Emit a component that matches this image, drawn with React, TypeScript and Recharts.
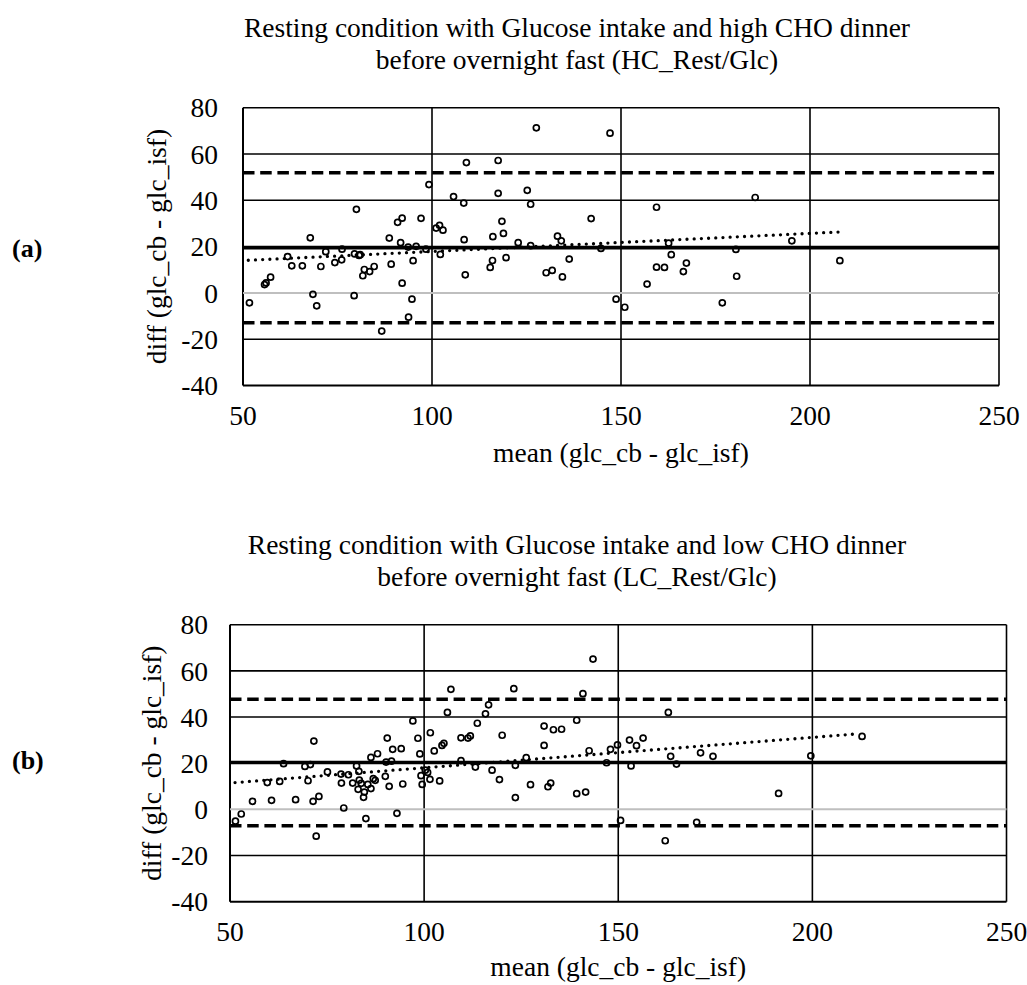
import React from 'react';
import { ScatterChart, Scatter, XAxis, YAxis, ReferenceLine } from 'recharts';

const xTicks = [50, 100, 150, 200, 250];
const yTicks = [-40, -20, 0, 20, 40, 60, 80];

// (a) HC_Rest/Glc
const hcMean = [
  51.7, 55.7, 56.1, 57.3, 61.8, 62.9, 65.7, 67.8, 68.5, 69.5, 70.6, 71.9, 74.3, 76.1, 76.2, 79.4, 79.5, 80.0,
  80.7, 81.0, 81.7, 82.1, 83.5, 84.7, 86.7, 88.7, 89.2, 90.9, 92.1, 91.7, 92.1, 93.7, 93.8, 94.7, 95.0, 95.8,
  97.1, 98.4, 99.2, 101.1, 102.0, 102.9, 102.2, 105.7, 108.4, 108.5, 108.8, 109.1, 115.4, 116.0, 116.1, 117.5,
  117.5, 118.5, 118.9, 119.6, 122.8, 125.2, 126.1, 126.1, 127.6, 130.2, 131.8, 133.2, 134.2, 134.5, 136.3,
  142.1, 144.7, 147.1, 148.7, 151.0, 156.9, 159.4, 159.4, 161.5, 162.6, 163.3, 166.5, 167.3, 176.8, 180.4,
  180.6, 185.5, 195.2, 207.9,
];
const hcDiff = [
  -4.3, 3.6, 4.3, 6.8, 15.7, 11.7, 11.7, 23.8, -0.6, -5.6, 11.4, 17.8, 13.1, 14.3, 18.9, -1.2, 16.9, 36.1,
  16.2, 16.5, 7.4, 10.1, 9.2, 11.4, -16.5, 23.7, 12.4, 30.5, 32.3, 21.7, 4.2, 19.8, -10.5, -2.7, 13.9, 20.1,
  32.2, 18.9, 46.8, 28.0, 29.2, 27.1, 16.6, 41.6, 38.8, 23.0, 7.8, 56.3, 11.0, 14.0, 24.3, 57.2,
  43.0, 30.9, 25.7, 15.2, 21.7, 44.3, 38.3, 20.4, 71.3, 8.7, 9.7, 24.5, 22.5, 6.9, 14.6,
  32.1, 19.2, 69.0, -2.7, -6.2, 3.8, 37.0, 11.1, 11.0, 21.5, 16.5, 9.2, 12.9, -4.3, 18.8,
  7.2, 41.2, 22.5, 13.9,
];
const hcBias = 19.5;
const hcLimits = [51.9, -12.9];
const hcTrend = [{ x: 51.4, y: 14.1 }, { x: 207.5, y: 26.3 }];

// (b) LC_Rest/Glc
const lcMean = [
  51.4, 52.9, 55.8, 60.7, 59.6, 62.8, 63.8, 66.9, 69.3, 70.1, 70.7, 71.4, 71.6, 72.2, 72.9, 75.1, 78.6, 78.7,
  79.3, 80.5, 81.6, 82.6, 83.2, 83.3, 83.0, 83.8, 84.4, 84.6, 85.0, 85.5, 86.3, 86.3, 86.9, 87.4, 88.0, 90.0,
  90.2, 90.5, 91.0, 91.6, 91.9, 93.0, 94.1, 94.5, 97.1, 98.4, 98.9, 99.2, 99.5, 100.3, 100.9, 101.5, 101.6,
  102.6, 104.0, 104.6, 105.1, 106.0, 106.9, 109.5, 109.5, 111.3, 111.9, 113.2, 113.7, 115.8, 116.6, 117.5,
  119.4, 120.1, 123.1, 123.5, 123.5, 126.3, 127.4, 130.9, 130.9, 131.9, 132.6, 133.3, 135.4, 139.3, 139.3,
  140.9, 141.6, 142.5, 143.5, 147.0, 148.0, 149.8, 150.6, 152.9, 153.3, 154.7, 156.4, 162.1, 162.9, 163.5,
  165.0, 170.2, 171.2, 174.4, 191.3, 199.6, 212.8,
];
const lcDiff = [
  -5.1, -2.0, 3.5, 3.9, 11.6, 12.1, 19.8, 4.2, 18.6, 12.4, 19.4, 3.5, 29.6, -11.6, 5.6, 16.2, 15.3, 11.4,
  0.6, 15.0, 11.4, 18.8, 16.5, 12.7, 8.7, 11.3, 5.2, 7.5, -4.0, 10.8, 9.0, 22.5, 13.3, 12.6, 24.1, 14.3,
  20.5, 30.9, 10.0, 20.9, 26.0, -1.7, 26.3, 11.0, 38.3, 30.8, 24.0, 14.6, 10.8, 17.0, 16.0, 13.0, 33.2,
  25.3, 12.3, 27.7, 28.6, 42.0, 52.0, 21.1, 31.0, 30.9, 31.8, 18.3, 37.3, 41.4, 45.3, 17.0,
  12.9, 32.1, 52.3, 5.1, 19.1, 22.4, 10.7, 27.7, 36.1, 9.8, 11.4, 34.5, 34.7, 6.8, 38.6,
  50.1, 7.5, 25.4, 65.1, 20.2, 26.0, 27.9, -4.8, 30.0, 18.8, 27.6, 30.9, -13.6, 42.0, 23.0,
  19.6, -5.6, 24.5, 23.0, 6.9, 23.2, 31.6,
];
const lcBias = 20.3;
const lcLimits = [47.7, -7.1];
const lcTrend = [{ x: 51.3, y: 11.6 }, { x: 211.5, y: 32.7 }];

const FONT = "'Liberation Serif', 'Times New Roman', serif";
const FS = 27.5;

const Marker = (props: any) => {
  const { cx, cy } = props;
  if (cx == null || cy == null) return null;
  return <circle cx={cx} cy={cy} r={3} fill="none" stroke="#000" strokeWidth={1.7} />;
};

type PanelProps = {
  top: number;
  height: number;
  plot: { left: number; right: number; top: number; bottom: number };
  tickGap: number;
  means: number[];
  diffs: number[];
  bias: number;
  limits: number[];
  trend: { x: number; y: number }[];
  title: string[];
  tag: string;
  yLabelX: number;
  tagBaseline: number;
  xTitleBaseline: number;
};

function Panel(p: PanelProps) {
  const W = 1027;
  const data = p.means.map((m, i) => ({ x: m, y: p.diffs[i] }));
  const yAxisW = 60;
  const xAxisH = 30;
  const margin = {
    top: p.plot.top,
    right: W - p.plot.right,
    left: p.plot.left - yAxisW,
    bottom: p.height - p.plot.bottom - xAxisH,
  };
  const cxPlot = (p.plot.left + p.plot.right) / 2;
  const cyPlot = (p.plot.top + p.plot.bottom) / 2;
  const tickStyle = { fill: '#000', fontSize: FS, fontFamily: FONT };

  return (
    <div style={{ position: 'absolute', left: 0, top: p.top, width: W, height: p.height }}>
      <ScatterChart width={W} height={p.height} margin={margin}>
        <XAxis
          type="number"
          dataKey="x"
          domain={[50, 250]}
          ticks={xTicks}
          axisLine={false}
          tickLine={false}
          tickSize={0}
          tickMargin={19.5}
          height={xAxisH}
          tick={tickStyle}
          interval={0}
        />
        <YAxis
          type="number"
          dataKey="y"
          domain={[-40, 80]}
          ticks={yTicks}
          axisLine={false}
          tickLine={false}
          tickSize={0}
          tickMargin={p.tickGap}
          width={yAxisW}
          tick={tickStyle}
          interval={0}
        />
        {xTicks.map((v) => (
          <ReferenceLine key={'vx' + v} x={v} stroke="#000" strokeWidth={v === 50 ? 2 : 1.6} />
        ))}
        {yTicks.filter((v) => v !== 0).map((v) => (
          <ReferenceLine key={'hy' + v} y={v} stroke="#000" strokeWidth={v === -40 ? 2 : 1.6} />
        ))}
        <ReferenceLine y={0} stroke="#bfbfbf" strokeWidth={2} />
        <ReferenceLine y={p.bias} stroke="#000" strokeWidth={3.4} />
        {p.limits.map((v) => (
          <ReferenceLine key={'lim' + v} y={v} stroke="#000" strokeWidth={3.6} strokeDasharray="11.5 5.7" />
        ))}
        <ReferenceLine
          segment={p.trend}
          stroke="#000"
          strokeWidth={3.3}
          strokeDasharray="0 7.2"
          strokeLinecap="round"
        />
        <Scatter data={data} shape={Marker} isAnimationActive={false} />
      </ScatterChart>
      <svg
        width={W}
        height={p.height}
        style={{ position: 'absolute', left: 0, top: 0, pointerEvents: 'none' }}
        fontFamily={FONT}
        fontSize={FS}
      >
        <text x={577} y={37} textAnchor="middle">{p.title[0]}</text>
        <text x={577} y={69} textAnchor="middle">{p.title[1]}</text>
        <text
          x={p.yLabelX}
          y={cyPlot}
          textAnchor="middle"
          transform={`rotate(-90, ${p.yLabelX}, ${cyPlot})`}
        >
          diff (glc_cb - glc_isf)
        </text>
        <text x={cxPlot} y={p.xTitleBaseline} textAnchor="middle">mean (glc_cb - glc_isf)</text>
        <text x={12} y={p.tagBaseline} fontWeight="bold" fontSize={26}>{p.tag}</text>
      </svg>
    </div>
  );
}

export default function App() {
  return (
    <div style={{ position: 'absolute', left: 0, top: 0, width: 1027, height: 985, background: '#fff' }}>
      <Panel
        top={0}
        height={500}
        plot={{ left: 243, right: 999, top: 107.7, bottom: 385.5 }}
        tickGap={25}
        means={hcMean}
        diffs={hcDiff}
        bias={hcBias}
        limits={hcLimits}
        trend={hcTrend}
        title={['Resting condition with Glucose intake and high CHO dinner', 'before overnight fast (HC_Rest/Glc)']}
        tag="(a)"
        yLabelX={166}
        tagBaseline={257}
        xTitleBaseline={462}
      />
      <Panel
        top={517}
        height={468}
        plot={{ left: 230, right: 1006.5, top: 107.7, bottom: 384.7 }}
        tickGap={22}
        means={lcMean}
        diffs={lcDiff}
        bias={lcBias}
        limits={lcLimits}
        trend={lcTrend}
        title={['Resting condition with Glucose intake and low CHO dinner', 'before overnight fast (LC_Rest/Glc)']}
        tag="(b)"
        yLabelX={161}
        tagBaseline={252}
        xTitleBaseline={459}
      />
    </div>
  );
}
